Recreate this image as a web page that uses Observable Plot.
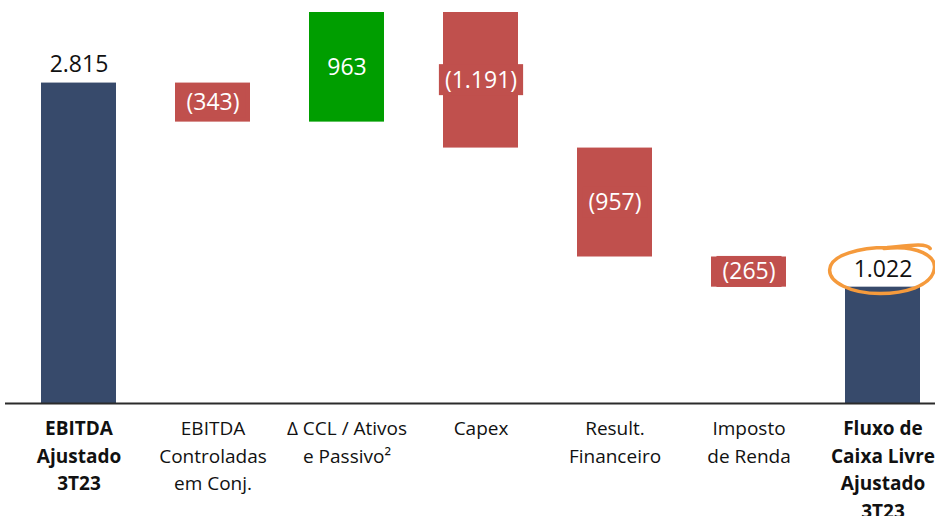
<!DOCTYPE html>
<html>
<head>
<meta charset="utf-8">
<script src="https://cdn.jsdelivr.net/npm/d3@7"></script>
<script src="https://cdn.jsdelivr.net/npm/@observablehq/plot@0.6"></script>
<style>
  html, body { margin: 0; padding: 0; background: #fff; }
  #chart svg { display: block; }
</style>
</head>
<body>
<div id="chart"></div>
<script>
const ids = ["ebitda", "controladas", "ccl", "capex", "financeiro", "imposto", "fcl"];
const categoryLabels = [
  "EBITDA\nAjustado\n3T23",
  "EBITDA\nControladas\nem Conj.",
  "Δ CCL / Ativos\ne Passivo²",
  "Capex",
  "Result.\nFinanceiro",
  "Imposto\nde Renda",
  "Fluxo de\nCaixa Livre\nAjustado\n3T23"
];
const values = [2815, -343, 963, -1191, -957, -265, 1022];
const kinds = ["total", "delta", "delta", "delta", "delta", "delta", "total"];
const boldLabels = [true, false, false, false, false, false, true];

const NAVY = "#374A6B", RED = "#C0504D", GREEN = "#009E00";
const FONT = "'Open Sans', sans-serif";

const fmtNum = (v) => {
  const s = d3.format(",")(Math.abs(v)).replace(/,/g, ".");
  return v < 0 ? `(${s})` : s;
};

let running = 0;
const rows = ids.map((id, i) => {
  let y1, y2;
  if (kinds[i] === "total") { y1 = 0; y2 = values[i]; running = values[i]; }
  else { y1 = running; y2 = running + values[i]; running = y2; }
  const color = kinds[i] === "total" ? NAVY : values[i] < 0 ? RED : GREEN;
  return {id, label: categoryLabels[i], value: values[i], kind: kinds[i], y1, y2,
          mid: (y1 + y2) / 2, color, text: fmtNum(values[i]), bold: boldLabels[i]};
});

const chart = Plot.plot({
  width: 935,
  height: 516,
  marginTop: 12,
  marginBottom: 113,
  marginLeft: 5,
  marginRight: 0,
  style: {fontFamily: FONT, background: "#fff"},
  x: {domain: ids, paddingInner: 0.44, paddingOuter: 0.19, align: 0.7, axis: null},
  y: {domain: [0, 3435], axis: null},
  color: {type: "identity"},
  marks: [
    Plot.barY(rows, {x: "id", y1: "y1", y2: "y2", fill: "color"}),
    Plot.ruleY([0], {stroke: "#2b2b2b", strokeWidth: 2}),
    Plot.text(rows.filter(d => d.kind === "delta"), {
      x: "id", y: "mid", text: "text", fill: "#fff", fontSize: 23
    }),
    Plot.text(rows.filter(d => d.kind === "total"), {
      x: "id", y: "y2", text: "text", fill: "#111", fontSize: 23, dy: -18
    }),
    Plot.text(rows.filter(d => !d.bold), {
      x: "id", frameAnchor: "bottom", text: "label", lineAnchor: "top",
      dy: 12, fontSize: 19, lineHeight: 1.45, fill: "#111"
    }),
    Plot.text(rows.filter(d => d.bold), {
      x: "id", frameAnchor: "bottom", text: "label", lineAnchor: "top",
      dy: 12, fontSize: 19, lineHeight: 1.45, fill: "#111", fontWeight: "bold"
    })
  ]
});

document.getElementById("chart").append(chart);
const NS = "http://www.w3.org/2000/svg";

// Find the rendered value-label text elements by their content
const byText = new Map();
chart.querySelectorAll("text").forEach(t => {
  if (!t.querySelector("tspan")) byText.set(t.textContent, t);
});

// Background boxes behind floating-bar labels (Excel-style filled data labels)
rows.filter(d => d.kind === "delta").forEach(d => {
  const t = byText.get(d.text);
  if (!t) return;
  const bb = t.getBBox();
  const h = 31;
  const r = document.createElementNS(NS, "rect");
  r.setAttribute("x", bb.x - 6);
  r.setAttribute("y", bb.y + bb.height / 2 - h / 2 + 1);
  r.setAttribute("width", bb.width + 12);
  r.setAttribute("height", h);
  r.setAttribute("fill", d.color);
  const tr = t.getAttribute("transform");
  if (tr) r.setAttribute("transform", tr);
  t.parentNode.insertBefore(r, t);
});

// Orange hand-drawn highlight around the final total label
const lastRow = rows[rows.length - 1];
const last = byText.get(lastRow.text);
if (last) {
  const bb = last.getBBox();
  const cx = bb.x + bb.width / 2 - 1, cy = bb.y + bb.height / 2 + 3;
  const rx = bb.width / 2 + 23, ry = bb.height / 2 + 7;
  const g = document.createElementNS(NS, "g");
  const tr = last.getAttribute("transform");
  if (tr) g.setAttribute("transform", tr);
  const p = document.createElementNS(NS, "path");
  const d = `M ${cx + 2} ${cy - ry + 1} ` +
    `C ${cx + rx * 0.7} ${cy - ry - 3}, ${cx + rx + 2} ${cy - ry * 0.6}, ${cx + rx} ${cy - 2} ` +
    `C ${cx + rx - 2} ${cy + ry * 0.7}, ${cx + rx * 0.4} ${cy + ry}, ${cx - 2} ${cy + ry} ` +
    `C ${cx - rx * 0.6} ${cy + ry}, ${cx - rx - 1} ${cy + ry * 0.5}, ${cx - rx} ${cy - 1} ` +
    `C ${cx - rx + 1} ${cy - ry * 0.7}, ${cx - rx * 0.4} ${cy - ry}, ${cx + rx * 0.1} ${cy - ry} ` +
    `C ${cx + rx * 0.5} ${cy - ry - 2}, ${cx + rx * 0.85} ${cy - ry - 5}, ${cx + rx * 0.92} ${cy - ry + 1}`;
  p.setAttribute("d", d);
  p.setAttribute("fill", "none");
  p.setAttribute("stroke", "#F59A3C");
  p.setAttribute("stroke-width", 3.5);
  p.setAttribute("stroke-linecap", "round");
  g.append(p);
  last.parentNode.append(g);
}
</script>
</body>
</html>
